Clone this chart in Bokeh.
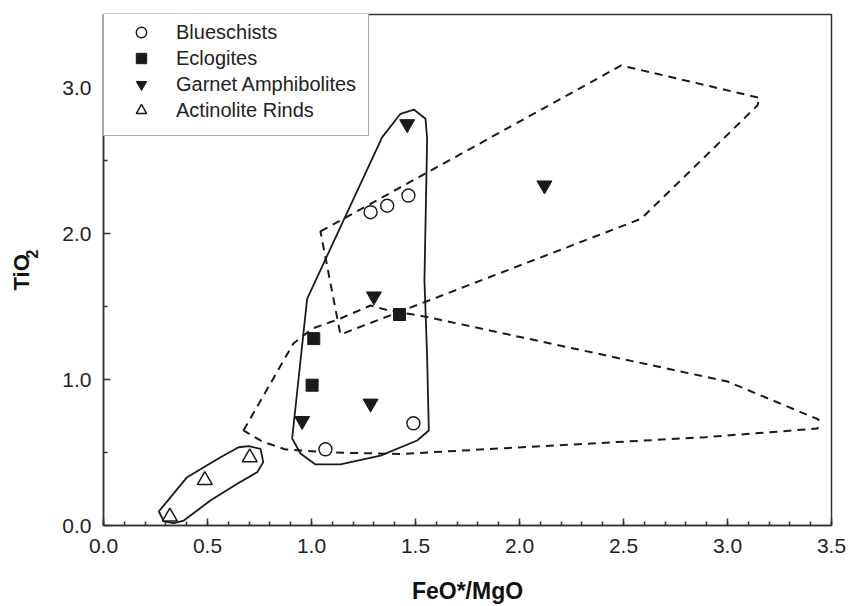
from bokeh.plotting import figure
from bokeh.models import Legend, LegendItem, FixedTicker, PrintfTickFormatter, Title
from bokeh.embed import file_html
from bokeh.resources import INLINE

# ---- data ----
blue_x = [1.284, 1.364, 1.466, 1.067, 1.49]
blue_y = [2.146, 2.19, 2.26, 0.522, 0.70]

ecl_x = [1.011, 1.003, 1.423]
ecl_y = [1.28, 0.961, 1.445]

garnet_x = [0.955, 1.284, 1.30, 1.46, 2.12]
garnet_y = [0.717, 0.836, 1.57, 2.75, 2.33]

act_x = [0.319, 0.487, 0.703]
act_y = [0.06, 0.31, 0.466]

# solid field outlines
field_main_x = [1.492, 1.548, 1.556, 1.543, 1.556, 1.564, 1.508, 1.332, 1.139, 1.019,
                0.947, 0.907, 0.979, 1.340, 1.428]
field_main_y = [2.849, 2.786, 2.651, 1.678, 1.153, 0.651, 0.582, 0.479, 0.418, 0.418,
                0.493, 0.596, 1.553, 2.660, 2.820]

field_rind_x = [0.266, 0.290, 0.338, 0.386, 0.514, 0.643, 0.739, 0.768, 0.755, 0.699,
                0.650, 0.5625, 0.402]
field_rind_y = [0.096, 0.029, 0.016, 0.034, 0.171, 0.286, 0.365, 0.434, 0.525, 0.543,
                0.536, 0.468, 0.331]

# dashed field outlines
dash_upper_x = [1.043, 2.489, 3.154, 3.144, 2.585, 1.139]
dash_upper_y = [2.014, 3.151, 2.929, 2.877, 2.101, 1.308]

dash_lower_x = [0.673, 0.913, 1.005, 1.139, 1.284, 1.365, 1.543, 3.0, 3.4375, 3.433,
                2.894, 1.428, 1.091, 0.875, 0.764]
dash_lower_y = [0.651, 1.247, 1.349, 1.418, 1.507, 1.475, 1.432, 0.986, 0.726, 0.664,
                0.605, 0.490, 0.500, 0.521, 0.575]

x_ticks = [0.0, 0.5, 1.0, 1.5, 2.0, 2.5, 3.0, 3.5]
x_minor = [round(i * 0.1, 1) for i in range(36)]
y_ticks = [0.0, 1.0, 2.0, 3.0]
y_minor = [0.5, 1.5, 2.5]

labels = ["Blueschists", "Eclogites", "Garnet Amphibolites", "Actinolite Rinds"]
x_title = "FeO*/MgO"
y_title_main = "TiO"
y_title_sub = "2"

FONT = "Liberation Sans"
INK = "#1a1a1a"

p = figure(width=848, height=606, x_range=(0, 3.5), y_range=(0, 3.5),
           output_backend="svg", toolbar_location=None,
           min_border_left=103, min_border_right=17, min_border_top=14, min_border_bottom=81)
p.grid.visible = False
p.outline_line_color = "#333333"
p.outline_line_width = 1.5
p.background_fill_color = "white"
p.border_fill_color = "white"

# field outlines
p.patch(field_main_x, field_main_y, fill_alpha=0, line_color=INK, line_width=1.8)
p.patch(field_rind_x, field_rind_y, fill_alpha=0, line_color=INK, line_width=1.8)
p.patch(dash_upper_x, dash_upper_y, fill_alpha=0, line_color=INK, line_width=2, line_dash="8 6")
p.patch(dash_lower_x, dash_lower_y, fill_alpha=0, line_color=INK, line_width=2, line_dash="8 6")

# points
r1 = p.scatter(blue_x, blue_y, marker="circle", size=13, fill_color="white",
               line_color=INK, line_width=1.4)
r2 = p.scatter(ecl_x, ecl_y, marker="square", size=12, fill_color=INK,
               line_color=INK, line_width=1)
r3 = p.scatter(garnet_x, garnet_y, marker="inverted_triangle", size=15, fill_color=INK,
               line_color=INK, line_width=1)
r4 = p.scatter(act_x, act_y, marker="triangle", size=15, fill_color="white",
               line_color=INK, line_width=1.5)

# axes
for ax in (p.xaxis[0], p.yaxis[0]):
    ax.axis_line_color = "#333333"
    ax.axis_line_width = 1.5
    ax.major_tick_line_color = "#333333"
    ax.minor_tick_line_color = "#333333"
    ax.major_tick_line_width = 1.5
    ax.minor_tick_line_width = 1.5
    ax.major_tick_in = 7
    ax.major_tick_out = 0
    ax.minor_tick_in = 4
    ax.minor_tick_out = 0
    ax.major_label_text_font = FONT
    ax.major_label_text_font_size = "21px"
    ax.major_label_text_color = "#222222"
    ax.axis_label_text_font = FONT
    ax.axis_label_text_font_size = "23px"
    ax.axis_label_text_font_style = "bold"
    ax.axis_label_text_color = "#111111"
    ax.formatter = PrintfTickFormatter(format="%.1f")

p.xaxis.ticker = FixedTicker(ticks=x_ticks, minor_ticks=x_minor)
p.yaxis.ticker = FixedTicker(ticks=y_ticks, minor_ticks=y_minor)
p.xaxis.axis_label = x_title
p.xaxis.major_label_standoff = 13
p.yaxis.major_label_standoff = 12
p.xaxis.axis_label_standoff = 22

# y title "TiO" with subscript "2": two side titles in the left panel
p.add_layout(Title(text=y_title_sub, align="left", offset=267, standoff=43,
                   text_font=FONT, text_font_size="16px", text_font_style="bold",
                   text_color="#111111"), "left")
p.add_layout(Title(text=y_title_main, align="left", offset=235, standoff=-62,
                   text_font=FONT, text_font_size="22px", text_font_style="bold",
                   text_color="#111111"), "left")

legend = Legend(items=[LegendItem(label=labels[0], renderers=[r1]),
                       LegendItem(label=labels[1], renderers=[r2]),
                       LegendItem(label=labels[2], renderers=[r3]),
                       LegendItem(label=labels[3], renderers=[r4])],
                location=(0, 389))
legend.margin = 0
legend.padding = 12
legend.spacing = 0
legend.glyph_width = 50
legend.glyph_height = 26
legend.label_height = 26
legend.label_standoff = 10
legend.label_text_font = FONT
legend.label_text_font_size = "20px"
legend.label_text_color = "#222222"
legend.border_line_color = "#555555"
legend.border_line_width = 1.5
legend.background_fill_color = "white"
legend.background_fill_alpha = 1.0
p.add_layout(legend)

open("out.html", "w").write(file_html(p, INLINE))
